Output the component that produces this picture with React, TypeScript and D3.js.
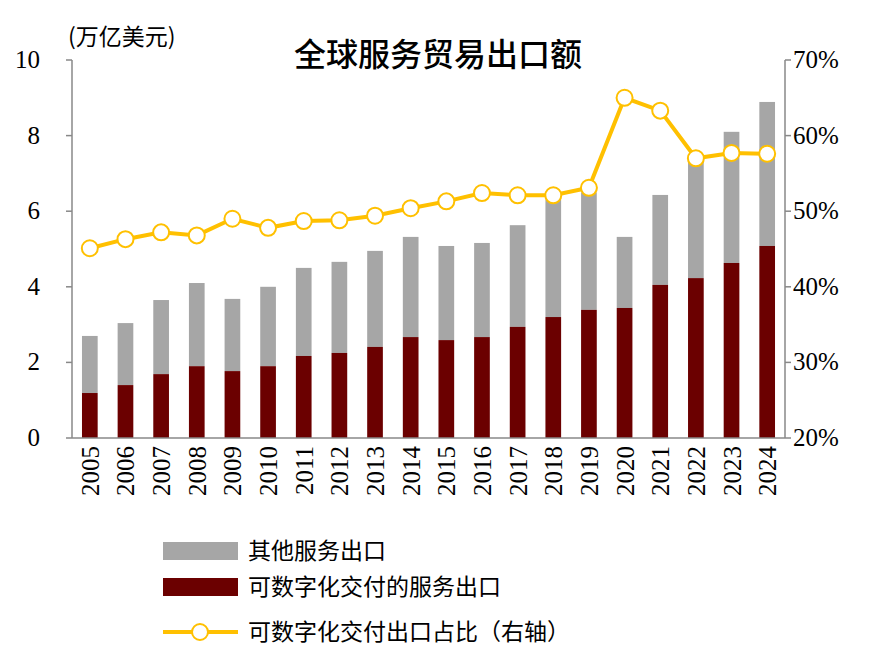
import * as d3 from 'd3';

const years = ['2005','2006','2007','2008','2009','2010','2011','2012','2013','2014','2015','2016','2017','2018','2019','2020','2021','2022','2023','2024'];
const totalExport = [2.7, 3.04, 3.65, 4.1, 3.68, 4.0, 4.5, 4.66, 4.95, 5.32, 5.08, 5.16, 5.63, 6.3, 6.5, 5.32, 6.43, 7.35, 8.1, 8.89];
const digitalExport = [1.19, 1.4, 1.69, 1.9, 1.77, 1.9, 2.17, 2.25, 2.41, 2.67, 2.59, 2.67, 2.94, 3.2, 3.39, 3.44, 4.05, 4.23, 4.63, 5.08];
const digitalShare = [45.1, 46.3, 47.2, 46.8, 49.0, 47.8, 48.7, 48.8, 49.4, 50.4, 51.3, 52.4, 52.1, 52.1, 53.1, 65.0, 63.3, 57.0, 57.7, 57.6];
const leftTicks = [0, 2, 4, 6, 8, 10];
const rightTicks = [20, 30, 40, 50, 60, 70];

const W = 886, H = 659;
const L = 72, R = 785, T = 60, B = 438;
const NUM = '"Liberation Serif", "Times New Roman", serif';
const CJK = '"Noto Sans CJK SC", sans-serif';
const GRAY = '#a6a6a6', DARK = '#6b0000', GOLD = '#ffc000';

export default function App() {
  const x = d3.scaleBand<string>().domain(years).range([L, R]).paddingInner(0.56).paddingOuter(0.28);
  const y = d3.scaleLinear().domain([0, 10]).range([B, T]);
  const y2 = d3.scaleLinear().domain([20, 70]).range([B, T]);
  const cx = (yr: string) => x(yr)! + x.bandwidth() / 2;
  const line = d3.line<number>().x((_, i) => cx(years[i])).y((d) => y2(d));

  return (
    <svg width={W} height={H} style={{ position: 'absolute', left: 0, top: 0 }}>
      <rect width={W} height={H} fill="#fff" />
      {years.map((yr, i) => (
        <g key={yr}>
          <rect x={x(yr)} y={y(totalExport[i])} width={x.bandwidth()} height={y(digitalExport[i]) - y(totalExport[i])} fill={GRAY} />
          <rect x={x(yr)} y={y(digitalExport[i])} width={x.bandwidth()} height={B - y(digitalExport[i])} fill={DARK} />
          <text transform={`translate(${cx(yr) + 9},446) rotate(-90)`} textAnchor="end" fontFamily={NUM} fontSize={25}>{yr}</text>
        </g>
      ))}
      <path d={line(digitalShare)!} fill="none" stroke={GOLD} strokeWidth={4} />
      {digitalShare.map((v, i) => (
        <circle key={i} cx={cx(years[i])} cy={y2(v)} r={8} fill="#fff" stroke={GOLD} strokeWidth={2} />
      ))}
      <g stroke="#888" strokeWidth={1.5}>
        <line x1={L} x2={L} y1={T} y2={B} />
        <line x1={R} x2={R} y1={T} y2={B} />
        <line x1={L} x2={R} y1={B} y2={B} />
        {leftTicks.map((t) => <line key={t} x1={L - 6} x2={L} y1={y(t)} y2={y(t)} />)}
        {rightTicks.map((t) => <line key={t} x1={R} x2={R + 6} y1={y2(t)} y2={y2(t)} />)}
      </g>
      {leftTicks.map((t) => (
        <text key={t} x={40} y={y(t) + 8} textAnchor="end" fontFamily={NUM} fontSize={25}>{t}</text>
      ))}
      {rightTicks.map((t) => (
        <text key={t} x={793} y={y2(t) + 8} fontFamily={NUM} fontSize={25}>{t}%</text>
      ))}
      <text x={68} y={45} fontFamily={CJK} fontSize={23}>(万亿美元)</text>
      <text x={438} y={66} textAnchor="middle" fontFamily={CJK} fontSize={32} fontWeight={500}>全球服务贸易出口额</text>
      <rect x={163} y={542} width={75} height={18} fill={GRAY} />
      <text x={248} y={559} fontFamily={CJK} fontSize={23}>其他服务出口</text>
      <rect x={163} y={578} width={75} height={18} fill={DARK} />
      <text x={248} y={595} fontFamily={CJK} fontSize={23}>可数字化交付的服务出口</text>
      <line x1={163} x2={238} y1={632} y2={632} stroke={GOLD} strokeWidth={4} />
      <circle cx={200} cy={632} r={8} fill="#fff" stroke={GOLD} strokeWidth={2} />
      <text x={248} y={640} fontFamily={CJK} fontSize={23}>可数字化交付出口占比（右轴）</text>
    </svg>
  );
}
